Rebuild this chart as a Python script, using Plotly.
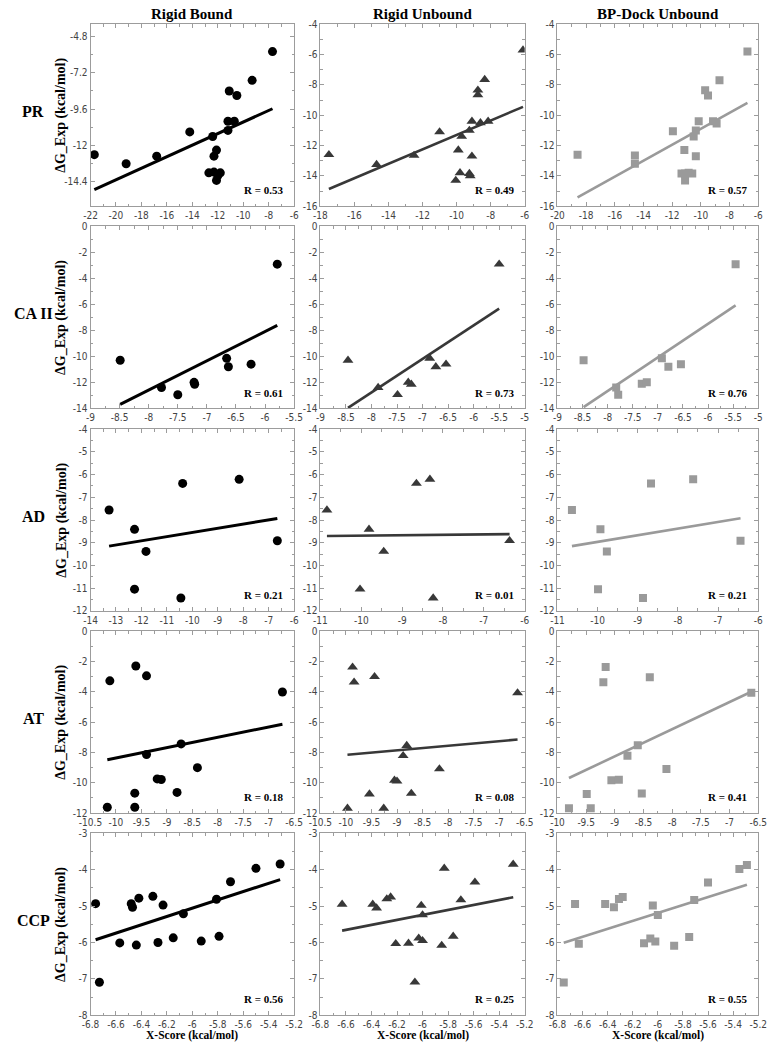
import numpy as np
import plotly.graph_objects as go

W, H = 774, 1048

row_names = ["PR", "CA II", "AD", "AT", "CCP"]
method_names = ["Rigid Bound", "Rigid Unbound", "BP-Dock Unbound"]

# ---------------- data (X-Score vs experimental dG) ----------------
# PR
pr_rb_x = [-21.7, -19.2, -16.8, -14.2, -12.4, -12.1, -12.3, -12.7, -12.3, -12.0, -11.8, -12.1, -11.2, -11.2, -10.7, -11.1, -10.5, -9.3, -7.7]
pr_rb_y = [-12.6, -13.2, -12.7, -11.1, -11.4, -12.3, -12.7, -13.8, -13.75, -14.0, -13.8, -14.3, -11.0, -10.4, -10.4, -8.4, -8.7, -7.7, -5.8]
pr_ru_x = [-17.5, -14.7, -12.5, -11.0, -9.7, -9.9, -9.1, -9.8, -9.25, -9.2, -10.05, -9.25, -9.1, -8.6, -8.15, -8.75, -8.75, -8.35, -6.1]
pr_ru_y = [-12.6, -13.25, -12.65, -11.1, -11.4, -12.3, -12.7, -13.8, -13.85, -14.0, -14.3, -11.0, -10.4, -10.5, -10.4, -8.35, -8.65, -7.65, -5.7]
pr_bp_x = [-18.6, -14.6, -14.6, -11.95, -11.15, -10.5, -10.35, -10.15, -10.35, -11.35, -11.1, -11.1, -10.85, -10.6, -9.7, -9.5, -9.15, -8.9, -8.7, -6.75]
pr_bp_y = [-12.6, -12.65, -13.2, -11.05, -12.3, -11.4, -11.0, -10.4, -12.7, -13.85, -13.85, -14.3, -13.8, -13.85, -8.35, -8.7, -10.4, -10.55, -7.7, -5.8]

# CA II
ca_rb_x = [-8.49, -7.78, -7.50, -7.22, -7.21, -6.66, -6.63, -6.24, -5.79]
ca_rb_y = [-10.3, -12.4, -12.95, -12.0, -12.15, -10.15, -10.8, -10.6, -2.9]
ca_ru_x = [-8.46, -7.87, -7.49, -7.28, -7.22, -6.86, -6.74, -6.54, -5.5]
ca_ru_y = [-10.3, -12.4, -12.95, -12.0, -12.15, -10.15, -10.8, -10.6, -2.9]
ca_bp_x = [-8.48, -7.83, -7.79, -7.32, -7.22, -6.92, -6.79, -6.54, -5.45]
ca_bp_y = [-10.3, -12.4, -12.95, -12.1, -12.0, -10.15, -10.8, -10.6, -2.9]

# AD
ad_rb_x = [-13.27, -12.27, -12.27, -11.82, -10.38, -10.45, -8.16, -6.66]
ad_rb_y = [-7.56, -8.41, -11.04, -9.38, -6.39, -11.43, -6.21, -8.91]
ad_ru_x = [-10.84, -9.81, -10.03, -9.45, -8.65, -8.32, -8.24, -6.37]
ad_ru_y = [-7.56, -8.41, -11.04, -9.38, -6.39, -6.21, -11.43, -8.91]
ad_bp_x = [-10.64, -9.93, -9.99, -9.77, -8.67, -7.62, -8.87, -6.44]
ad_bp_y = [-7.56, -8.41, -11.04, -9.38, -6.39, -6.21, -11.43, -8.91]

# AT
at_rb_x = [-10.12, -9.61, -9.40, -6.73, -8.72, -9.40, -8.40, -9.19, -9.11, -9.63, -8.80, -10.17, -9.63]
at_rb_y = [-3.27, -2.29, -2.94, -4.01, -7.43, -8.13, -9.0, -9.74, -9.78, -10.68, -10.63, -11.61, -11.61]
at_ru_x = [-9.87, -9.84, -9.44, -6.64, -8.81, -8.88, -8.17, -9.05, -9.0, -9.54, -8.72, -9.97, -9.26]
at_ru_y = [-2.37, -3.36, -3.0, -4.07, -7.54, -8.21, -9.08, -9.83, -9.89, -10.74, -10.70, -11.68, -11.68]
at_bp_x = [-9.16, -9.20, -8.39, -6.62, -8.60, -8.78, -8.10, -9.06, -8.93, -9.49, -8.53, -9.80, -9.42]
at_bp_y = [-2.35, -3.36, -3.03, -4.05, -7.52, -8.21, -9.08, -9.83, -9.80, -10.74, -10.70, -11.68, -11.68]

# CCP
ccp_rb_x = [-6.76, -6.73, -6.57, -6.48, -6.47, -6.42, -6.44, -6.31, -6.27, -6.23, -6.15, -6.07, -5.93, -5.81, -5.79, -5.70, -5.50, -5.31]
ccp_rb_y = [-4.93, -7.09, -6.01, -4.93, -5.03, -4.78, -6.07, -4.73, -6.0, -4.97, -5.87, -5.21, -5.96, -4.81, -5.83, -4.33, -3.96, -3.84]
ccp_ru_x = [-6.63, -6.39, -6.36, -6.28, -6.25, -6.21, -6.11, -6.06, -6.03, -6.01, -6.0, -6.0, -5.85, -5.83, -5.76, -5.70, -5.59, -5.29]
ccp_ru_y = [-4.95, -4.95, -5.05, -4.80, -4.75, -6.03, -6.02, -7.09, -5.88, -4.98, -5.24, -5.95, -6.08, -3.96, -5.83, -4.83, -4.34, -3.85]
ccp_bp_x = [-6.75, -6.66, -6.63, -6.42, -6.35, -6.31, -6.28, -6.11, -6.06, -6.04, -6.02, -6.0, -5.87, -5.75, -5.71, -5.60, -5.35, -5.29]
ccp_bp_y = [-7.1, -4.94, -6.03, -4.94, -5.03, -4.80, -4.75, -6.02, -5.89, -4.98, -5.97, -5.24, -6.09, -5.85, -4.83, -4.35, -3.98, -3.87]

r_labels = [["0.53", "0.49", "0.57"],
            ["0.61", "0.73", "0.76"],
            ["0.21", "0.01", "0.21"],
            ["0.18", "0.08", "0.41"],
            ["0.56", "0.25", "0.55"]]

panel_data = [
    [(pr_rb_x, pr_rb_y), (pr_ru_x, pr_ru_y), (pr_bp_x, pr_bp_y)],
    [(ca_rb_x, ca_rb_y), (ca_ru_x, ca_ru_y), (ca_bp_x, ca_bp_y)],
    [(ad_rb_x, ad_rb_y), (ad_ru_x, ad_ru_y), (ad_bp_x, ad_bp_y)],
    [(at_rb_x, at_rb_y), (at_ru_x, at_ru_y), (at_bp_x, at_bp_y)],
    [(ccp_rb_x, ccp_rb_y), (ccp_ru_x, ccp_ru_y), (ccp_bp_x, ccp_bp_y)],
]

# axis ranges / ticks
x_ranges = [[(-22, -6), (-18, -6), (-20, -6)],
            [(-9, -5.5), (-9, -5), (-9, -5)],
            [(-14, -6), (-11, -6), (-11, -6)],
            [(-10.5, -6.5), (-10.5, -6.5), (-10, -6.5)],
            [(-6.8, -5.2), (-6.8, -5.2), (-6.8, -5.2)]]
x_steps = [2, 0.5, 1, 0.5, 0.2]
y_ranges = [(-16, -4), (-14, 0), (-12, -4), (-12, 0), (-8, -3)]
y_steps = [2, 2, 1, 2, 1]
pr_rb_yticks = [-14.4, -12, -9.6, -7.2, -4.8]

# ---------------- styling / layout ----------------
marker_symbols = ["circle", "triangle-up", "square"]
marker_colors = ["#000000", "#383838", "#9a9a9a"]
marker_sizes = [9, 9.5, 8]
line_widths = [3, 2.6, 2.6]

col_px = [(80.7, 290.0), (317.0, 527.0), (560.7, 767.0)]
row_top_px = [18.5, 223.0, 428.0, 632.5, 837.0]
row_h = 184.0

TICK_FONT = dict(family="Liberation Sans Narrow, Arial Narrow, DejaVu Sans Condensed, sans-serif", size=10, color="#444444")
SERIF = "Liberation Serif, Times New Roman, serif"
FRAME = "#9c9c9c"


def fmt(v):
    return "%g" % round(v, 3)


def ticks_between(lo, hi, step):
    n = int(round((hi - lo) / step))
    return [round(lo + i * step, 4) for i in range(n + 1)]


fig = go.Figure()
annotations = []

for r in range(5):
    for c in range(3):
        k = r * 3 + c + 1
        xs = np.array(panel_data[r][c][0], dtype=float)
        ys = np.array(panel_data[r][c][1], dtype=float)
        xa = "x" if k == 1 else "x%d" % k
        ya = "y" if k == 1 else "y%d" % k

        # regression line from the data
        slope, icpt = np.polyfit(xs, ys, 1)
        lx = np.array([xs.min(), xs.max()])
        fig.add_trace(go.Scatter(x=lx, y=slope * lx + icpt, mode="lines",
                                 line=dict(color=marker_colors[c], width=line_widths[c]),
                                 xaxis=xa, yaxis=ya, showlegend=False, hoverinfo="skip"))
        fig.add_trace(go.Scatter(x=xs, y=ys, mode="markers",
                                 marker=dict(symbol=marker_symbols[c], color=marker_colors[c],
                                             size=marker_sizes[c], line=dict(width=0)),
                                 xaxis=xa, yaxis=ya, showlegend=False))

        x0, x1 = x_ranges[r][c]
        y0, y1 = y_ranges[r]
        xt = ticks_between(x0, x1, x_steps[r])
        if r == 0 and c == 0:
            yt = pr_rb_yticks
        else:
            yt = ticks_between(y0, y1, y_steps[r])
        xminor = [round((a + b) / 2, 4) for a, b in zip(xt[:-1], xt[1:])]
        yminor = [round((a + b) / 2, 4) for a, b in zip(yt[:-1], yt[1:])]

        left, right = col_px[c]
        top = row_top_px[r]
        bottom = top + row_h
        axis_common = dict(showline=True, linecolor=FRAME, linewidth=1, mirror="ticks",
                           ticks="inside", ticklen=4, tickcolor=FRAME, tickwidth=1,
                           showgrid=False, zeroline=False, tickfont=TICK_FONT,
                           tickmode="array")
        fig.layout["xaxis" if k == 1 else "xaxis%d" % k] = dict(
            axis_common, domain=[left / W, right / W], anchor=ya, range=[x0, x1],
            tickvals=xt, ticktext=[fmt(v) for v in xt],
            minor=dict(tickmode="array", tickvals=xminor, ticks="inside", ticklen=2.5, tickcolor=FRAME))
        fig.layout["yaxis" if k == 1 else "yaxis%d" % k] = dict(
            axis_common, domain=[1 - bottom / H, 1 - top / H], anchor=xa, range=[y0, y1],
            tickvals=yt, ticktext=[fmt(v) for v in yt],
            minor=dict(tickmode="array", tickvals=yminor, ticks="inside", ticklen=2.5, tickcolor=FRAME))

        # R annotation
        annotations.append(dict(text="<b>R = %s</b>" % r_labels[r][c], xref="paper", yref="paper",
                                x=(right - 9) / W, y=1 - (bottom - 16) / H, xanchor="right", yanchor="middle",
                                showarrow=False, font=dict(family=SERIF, size=11, color="#000000")))

# column titles
for c in range(3):
    left, right = col_px[c]
    annotations.append(dict(text="<b>%s</b>" % method_names[c], xref="paper", yref="paper",
                            x=(left + right) / 2 / W, y=1 - 8 / H, xanchor="center", yanchor="middle",
                            showarrow=False, font=dict(family=SERIF, size=15, color="#000000")))
    annotations.append(dict(text="<b>X-Score (kcal/mol)</b>", xref="paper", yref="paper",
                            x=(left + right) / 2 / W, y=1 - 1041 / H, xanchor="center", yanchor="middle",
                            showarrow=False, font=dict(family=SERIF, size=11.5, color="#000000")))

# row labels and y titles
for r in range(5):
    cy = row_top_px[r] + row_h / 2
    annotations.append(dict(text="<b>%s</b>" % row_names[r], xref="paper", yref="paper",
                            x=22 / W, y=1 - (cy - 4) / H, xanchor="center", yanchor="middle",
                            showarrow=False, font=dict(family=SERIF, size=16, color="#000000")))
    annotations.append(dict(text="<b>\u0394G_Exp (kcal/mol)</b>", xref="paper", yref="paper",
                            x=51 / W, y=1 - cy / H, xanchor="center", yanchor="middle", textangle=-90,
                            showarrow=False, font=dict(family=SERIF, size=14, color="#000000")))

fig.update_layout(width=W, height=H, margin=dict(l=0, r=0, t=0, b=0),
                  paper_bgcolor="white", plot_bgcolor="white",
                  annotations=annotations, showlegend=False)

# no toolbar, and no default page margin so the figure sits at the window's top-left corner
fig.write_html("out.html", config={"displayModeBar": False},
               post_script="document.body.style.margin='0';document.body.style.overflow='hidden';")
